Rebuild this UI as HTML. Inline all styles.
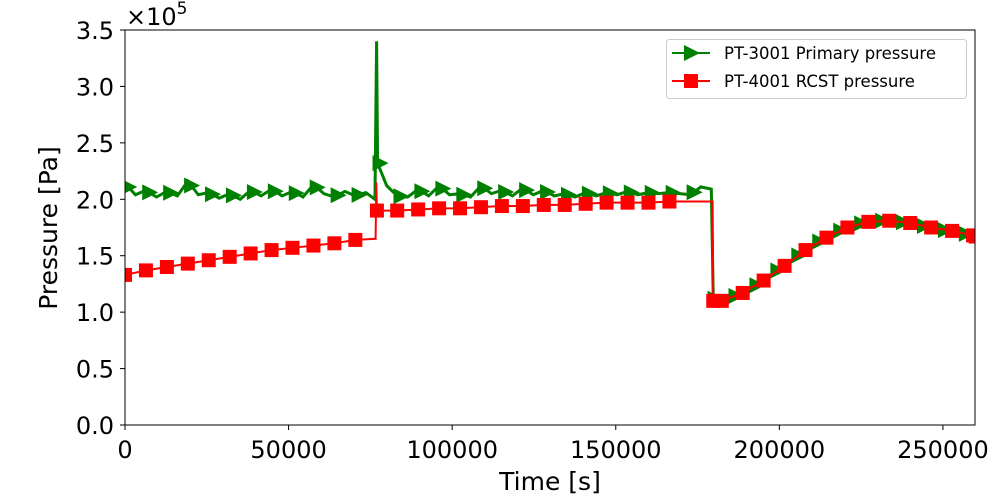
<!DOCTYPE html>
<html><head><meta charset="utf-8"><style>
body{margin:0;background:#fff}
svg{display:block;font-family:"DejaVu Sans","Liberation Sans",sans-serif}
</style></head><body>
<svg id="chart" width="1000" height="500">
<g id="plot"></g>
<g id="axes"></g>
</svg>
<script>
const tG=[0,3200,6400,9600,12800,16000,19200,22400,25600,28800,32000,35200,38400,41600,44800,48000,51200,54400,57600,60800,64000,67200,70400,73600,76400,76900,77200,80000,83200,86400,89600,92800,96000,99200,102400,105600,108800,112000,115200,118400,121600,124800,128000,131200,134400,137600,140800,144000,147200,150400,153600,156800,160000,163200,166400,169600,172800,176000,179200,179800,182400,185600,188800,192000,195200,198400,201600,204800,208000,211200,214400,217600,220800,224000,227200,230400,233600,236800,240000,243200,246400,249600,252800,256000,259200,260000];
const pG=[2.14,2.04,2.08,2.02,2.07,2.03,2.16,2.04,2.06,2.01,2.05,2.0,2.08,2.03,2.09,2.03,2.07,2.02,2.13,2.05,2.02,2.07,2.03,2.06,2.0,3.4,2.32,2.12,2.03,2.02,2.09,2.03,2.12,2.04,2.05,2.02,2.12,2.05,2.08,2.03,2.1,2.04,2.08,2.03,2.05,2.02,2.06,2.03,2.06,2.04,2.07,2.04,2.06,2.05,2.06,2.05,2.04,2.11,2.09,1.12,1.11,1.13,1.17,1.22,1.28,1.35,1.41,1.48,1.55,1.61,1.66,1.71,1.75,1.78,1.80,1.81,1.81,1.80,1.79,1.77,1.75,1.73,1.72,1.70,1.68,1.68];
const tR=[0,6400,12800,19200,25600,32000,38400,44800,51200,57600,64000,70400,76600,76800,77000,83200,89600,96000,102400,108800,115200,121600,128000,134400,140800,147200,153600,160000,166400,172800,179600,179800,182400,188800,195200,201600,208000,214400,220800,227200,233600,240000,246400,252800,259200,260000];
const pR=[1.33,1.37,1.40,1.43,1.46,1.49,1.52,1.55,1.57,1.59,1.61,1.64,1.65,2.15,1.90,1.90,1.91,1.92,1.92,1.93,1.94,1.94,1.95,1.95,1.96,1.97,1.97,1.97,1.98,1.98,1.98,1.10,1.10,1.17,1.28,1.41,1.55,1.66,1.75,1.80,1.81,1.79,1.75,1.72,1.68,1.67];
const xTicks=[0,50000,100000,150000,200000,250000];
const yTicks=[0,0.5,1.0,1.5,2.0,2.5,3.0,3.5];
const X0=125,X1=975,Y0=425,Y1=30,XMAX=259800,YMAX=3.5;
const sx=t=>X0+t/XMAX*(X1-X0), sy=v=>Y0-v/YMAX*(Y0-Y1);
const NS="http://www.w3.org/2000/svg";
const plot=document.getElementById('plot'),axes=document.getElementById('axes');
function mk(tag,attrs,parent){const e=document.createElementNS(NS,tag);for(const k in attrs)e.setAttribute(k,attrs[k]);parent.appendChild(e);return e;}
function interp(ts,ps,t){for(let i=1;i<ts.length;i++){if(ts[i]>=t){const f=(t-ts[i-1])/(ts[i]-ts[i-1]);return ps[i-1]+f*(ps[i]-ps[i-1]);}}return ps[ps.length-1];}
const clip=mk('clipPath',{id:'cp'},plot);mk('rect',{x:X0,y:Y1,width:X1-X0,height:Y0-Y1},clip);
const g=mk('g',{'clip-path':'url(#cp)'},plot);
// green first (red drawn on top after drop)
const lg=mk('polyline',{points:tG.map((t,i)=>sx(t)+','+sy(pG[i])).join(' '),fill:'none',stroke:'#008000','stroke-width':3},g);


for(let t=1000;t<=260000;t+=6400){let v=interp(tG,pG,t);if(t>=76000&&t<79000)v=2.32;const x=sx(t),y=sy(v);
const m=mk('polygon',{points:`${x-7},${y-8} ${x+9},${y} ${x-7},${y+8}`,fill:'#008000'},g);

}
const lr=mk('polyline',{points:tR.map((t,i)=>sx(t)+','+sy(pR[i])).join(' '),fill:'none',stroke:'#ff0000','stroke-width':2},g);


tR.forEach((t,i)=>{if(i>=12&&i<=13||i>=29&&i<=30)return;const r=mk('rect',{x:sx(t)-7,y:sy(pR[i])-7,width:14,height:14,fill:'#ff0000'},g);

});
const fr=mk('rect',{x:X0,y:Y1,width:X1-X0,height:Y0-Y1,fill:'none',stroke:'#000','stroke-width':1},axes);


xTicks.forEach(t=>{const x=sx(t);mk('line',{x1:x,x2:x,y1:Y0,y2:Y0+5,stroke:'#000'},axes);
const tx=mk('text',{x:x,y:458,'text-anchor':'middle','font-size':24},axes);tx.textContent=t;

});
yTicks.forEach(v=>{const y=sy(v);mk('line',{x1:X0-5,x2:X0,y1:y,y2:y,stroke:'#000'},axes);
const tx=mk('text',{x:114,y:y+9,'text-anchor':'end','font-size':24},axes);tx.textContent=v.toFixed(1);

});
</script>
<svg style="position:absolute;left:0;top:0" width="1000" height="500">
<text x="126" y="25" font-size="24">×10<tspan dy="-11" font-size="17">5</tspan></text>
<text x="550" y="490" text-anchor="middle" font-size="25">Time [s]</text>
<text transform="translate(57,228) rotate(-90)" text-anchor="middle" font-size="25">Pressure [Pa]</text>
<g>
<rect x="666.5" y="39.5" width="300" height="59" rx="3" fill="#fff" stroke="#ccc"/>
<g>
<line x1="672" x2="710" y1="53" y2="53" stroke="#008000" stroke-width="2"/>
<polygon points="684,45 700,53 684,61" fill="#008000"/>
<text x="724" y="59" font-size="16.5">PT-3001 Primary pressure</text></g>
<g>
<line x1="672" x2="710" y1="81" y2="81" stroke="#ff0000" stroke-width="2"/>
<rect x="684" y="74" width="14" height="14" fill="#ff0000"/>
<text x="724" y="87" font-size="16.5">PT-4001 RCST pressure</text></g>
</g>
</svg>
</body></html>
